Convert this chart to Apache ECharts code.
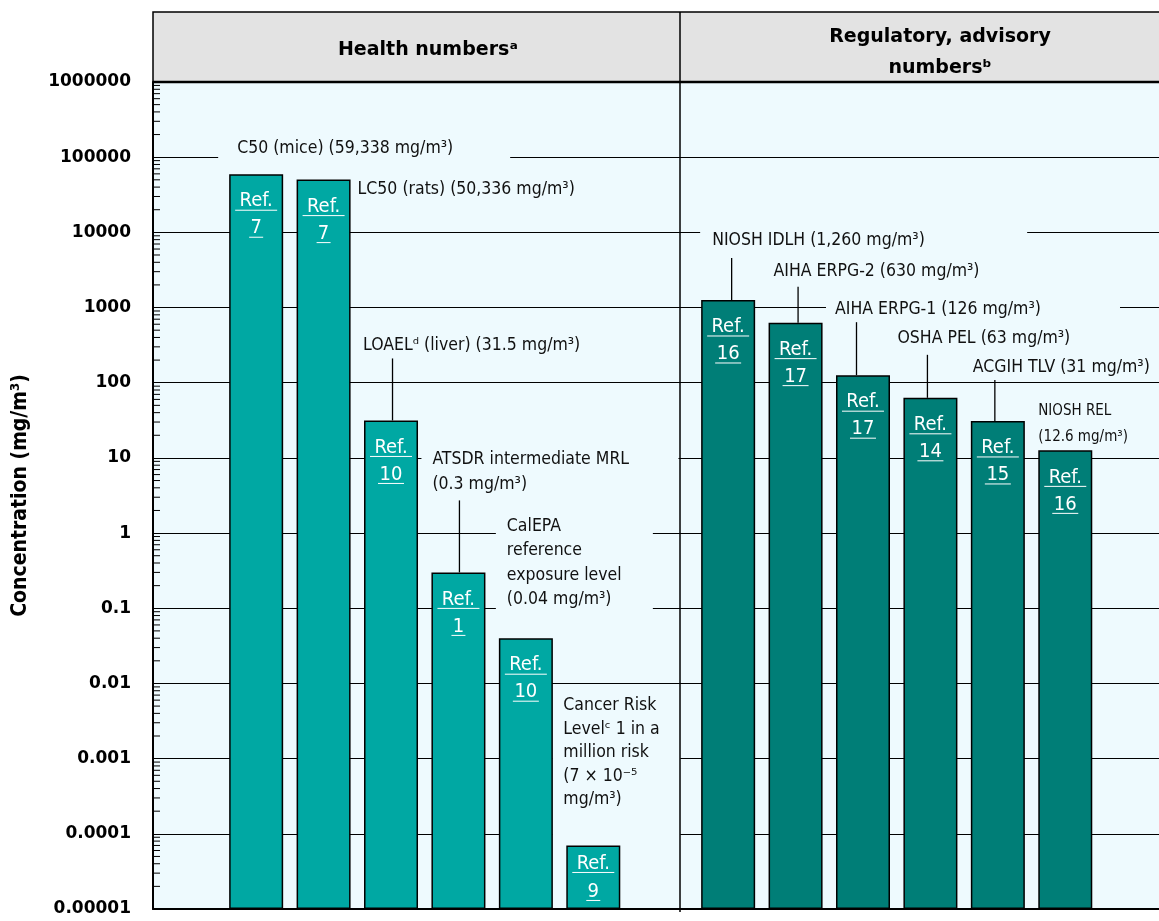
<!DOCTYPE html>
<html><head><meta charset="utf-8">
<script src="https://cdn.jsdelivr.net/npm/echarts@6/dist/echarts.min.js"></script>
<style>html,body{margin:0;padding:0;background:#fff}#c{width:1159px;height:921px}</style>
</head><body><div id="c"></div>
<script>
// ---------------- data ----------------
const categories = ['', 'LC50 (mice)', 'LC50 (rats)', 'LOAEL (liver)', 'ATSDR intermediate MRL', 'CalEPA REL', 'Cancer risk level', '', 'NIOSH IDLH', 'AIHA ERPG-2', 'AIHA ERPG-1', 'OSHA PEL', 'ACGIH TLV', 'NIOSH REL', ''];
const concentrations = [null, 59338, 50336, 31.5, 0.3, 0.04, 0.00007, null, 1260, 630, 126, 63, 31, 12.6, null];
const groups = ['', 'health', 'health', 'health', 'health', 'health', 'health', '', 'regulatory', 'regulatory', 'regulatory', 'regulatory', 'regulatory', 'regulatory', ''];
const refNumbers = ['', '7', '7', '10', '1', '10', '9', '', '16', '17', '17', '14', '15', '16', ''];
const annotationTexts = [
  '',
  'C50 (mice) (59,338 mg/m³)',
  'LC50 (rats) (50,336 mg/m³)',
  'LOAELᵈ (liver) (31.5 mg/m³)',
  'ATSDR intermediate MRL\n(0.3 mg/m³)',
  'CalEPA\nreference\nexposure level\n(0.04 mg/m³)',
  'Cancer Risk\nLevelᶜ 1 in a\nmillion risk\n(7 × 10⁻⁵\nmg/m³)',
  '',
  'NIOSH IDLH (1,260 mg/m³)',
  'AIHA ERPG-2 (630 mg/m³)',
  'AIHA ERPG-1 (126 mg/m³)',
  'OSHA PEL (63 mg/m³)',
  'ACGIH TLV (31 mg/m³)',
  'NIOSH REL\n(12.6 mg/m³)',
  ''
];
const groupTitles = ['Health numbersᵃ', 'Regulatory, advisory\nnumbersᵇ'];
const yTickLabels = ['0.00001', '0.0001', '0.001', '0.01', '0.1', '1', '10', '100', '1000', '10000', '100000', '1000000'];
const yTitle = 'Concentration (mg/m³)';
const minorMultipliers = [2, 3, 4, 5, 6, 7, 8, 9];

// ---------------- styles / layout ----------------
const PLOT_BG = '#eefafe';
const COLORS = { health: '#00a8a3', regulatory: '#007e77' };
const FONT = '"DejaVu Sans Condensed", "DejaVu Sans", sans-serif';
// offsets relative to each bar's top-centre (label placement, like label.offset)
const annotationLayout = {
  1: { dx: -19, dy: -26, lh: 24, box: [-38, 254, -36, -12] },
  2: { dx: 34, dy: 10, lh: 24 },
  3: { dx: -28, dy: -75, lh: 24, leader: [1.5, -62] },
  4: { dx: -26, dy: -113, lh: 25, box: [-37, 220, -124, -76], leader: [1, -72] },
  5: { dx: -19, dy: -112, lh: 24.5, box: [-30, 127, -125, -24] },
  6: { dx: -30, dy: -140, lh: 23.5, box: [-41, 87, -155, -3] },
  8: { dx: -16, dy: -60, lh: 24, box: [-28, 299, -72, -48], leader: [3.5, -42] },
  9: { dx: -22, dy: -51, lh: 24, leader: [2.5, -36] },
  10: { dx: -28, dy: -66, lh: 24, box: [-37, 257, -77, -55], leader: [-6.5, -53] },
  11: { dx: -33, dy: -59, lh: 24, leader: [-3, -43] },
  12: { dx: -25, dy: -54, lh: 24, leader: [-3, -41] },
  13: { dx: -27, dy: -39, lh: 26, size: 15 }
};
const refLayout = { def: [27, 54], 6: [18, 46] };

const yFmt = v => {
  const e = Math.round(Math.log10(v));
  return yTickLabels[e + 5] || '';
};

const barData = [];
const pointData = [];
concentrations.forEach((v, i) => {
  if (v == null) return;
  barData.push({ value: [i, v], itemStyle: { color: COLORS[groups[i]] } });
  pointData.push([i, v]);
});

const minorData = [];
for (let e = -5; e < 6; e++) minorMultipliers.forEach(m => minorData.push([0, m * Math.pow(10, e)]));

function renderAnnotation(params, api) {
  const i = api.value(0), v = api.value(1);
  const L = annotationLayout[i];
  if (!L) return null;
  const p = api.coord([i, v]);
  const cx = p[0], top = p[1];
  const children = [];
  if (L.box) children.push({ type: 'rect', shape: { x: cx + L.box[0], y: top + L.box[2], width: L.box[1] - L.box[0], height: L.box[3] - L.box[2] }, style: { fill: PLOT_BG } });
  annotationTexts[i].split('\n').forEach((t, k) => children.push({
    type: 'text', x: cx + L.dx, y: top + L.dy + k * L.lh,
    style: { text: t, font: `${L.size || 17.5}px ${FONT}`, fill: '#111', align: 'left', verticalAlign: 'middle' }
  }));
  if (L.leader) children.push({ type: 'line', shape: { x1: cx + L.leader[0], y1: top + L.leader[1], x2: cx + L.leader[0], y2: top }, style: { stroke: '#000', lineWidth: 1.3 } });
  return { type: 'group', children };
}

function renderRef(params, api) {
  const i = api.value(0), v = api.value(1);
  const p = api.coord([i, v]);
  const cx = p[0], top = p[1];
  const off = refLayout[i] || refLayout.def;
  const txt = ['Ref.', refNumbers[i]];
  const children = [];
  txt.forEach((t, k) => {
    const y = top + off[k];
    const w = k === 0 ? 42 : t.length * 12 + 2;
    children.push({ type: 'text', x: cx, y: y, style: { text: t, font: `20px ${FONT}`, fill: '#fff', align: 'center', verticalAlign: 'middle' } });
    children.push({ type: 'line', shape: { x1: cx - w / 2, y1: y + 9, x2: cx + w / 2, y2: y + 9 }, style: { stroke: '#fff', lineWidth: 1 } });
  });
  return { type: 'group', children };
}

function renderMinor(params, api) {
  const y = api.coord([0, api.value(1)])[1];
  const x0 = params.coordSys.x;
  return { type: 'line', shape: { x1: x0, y1: y, x2: x0 + 7, y2: y }, style: { stroke: '#000', lineWidth: 1 } };
}

const chart = echarts.init(document.getElementById('c'), null, { renderer: 'canvas' });
chart.setOption({
  animation: false,
  backgroundColor: '#fff',
  grid: { left: 153, top: 82, right: 0, bottom: 12, show: true, backgroundColor: PLOT_BG, borderWidth: 0 },
  xAxis: {
    type: 'value', min: -0.53, max: 14.39,
    axisLine: { show: true, onZero: false, lineStyle: { color: '#000', width: 2 } },
    axisTick: { show: false }, axisLabel: { show: false }, splitLine: { show: false }
  },
  yAxis: {
    type: 'log', logBase: 10, min: 0.00001, max: 1000000, interval: 1, startValue: 0.00001,
    axisLine: { show: true, onZero: false, lineStyle: { color: '#000', width: 2 } },
    axisTick: { show: false },
    splitLine: { show: true, lineStyle: { color: '#000', width: 1.2 } },
    axisLabel: { formatter: yFmt, fontFamily: 'DejaVu Sans', fontWeight: 'bold', fontSize: 17, color: '#000', margin: 22 },
    name: yTitle, nameLocation: 'middle', nameGap: 122, nameRotate: 90,
    nameTextStyle: { fontFamily: FONT, fontWeight: 'bold', fontSize: 21, color: '#000' }
  },
  series: [
    { type: 'custom', z: 1, data: pointData, renderItem: renderAnnotation, encode: { x: 0, y: 1 }, silent: true },
    {
      type: 'bar', z: 2, data: barData, barWidth: 54,
      itemStyle: { borderColor: '#000', borderWidth: 1.5 }, silent: true
    },
    { type: 'custom', z: 3, data: pointData, renderItem: renderRef, encode: { x: 0, y: 1 }, silent: true },
    { type: 'custom', z: 3, data: minorData, renderItem: renderMinor, encode: { x: 0, y: 1 }, silent: true }
  ],
  graphic: [
    { type: 'rect', z: 5, shape: { x: 153, y: 12, width: 1012, height: 70 }, style: { fill: '#e3e3e3', stroke: '#000', lineWidth: 1.5 } },
    { type: 'line', z: 6, shape: { x1: 153, y1: 82, x2: 1159, y2: 82 }, style: { stroke: '#000', lineWidth: 2.5 } },
    { type: 'line', z: 6, shape: { x1: 680, y1: 12, x2: 680, y2: 912 }, style: { stroke: '#000', lineWidth: 1.5 } },
    { type: 'text', z: 7, x: 428, y: 50, style: { text: groupTitles[0], font: `bold 19px "DejaVu Sans", sans-serif`, fill: '#000', align: 'center', verticalAlign: 'middle' } },
    { type: 'text', z: 7, x: 940, y: 53, style: { text: groupTitles[1], font: `bold 19px "DejaVu Sans", sans-serif`, fill: '#000', align: 'center', verticalAlign: 'middle', lineHeight: 31 } }
  ]
});
</script></body></html>
